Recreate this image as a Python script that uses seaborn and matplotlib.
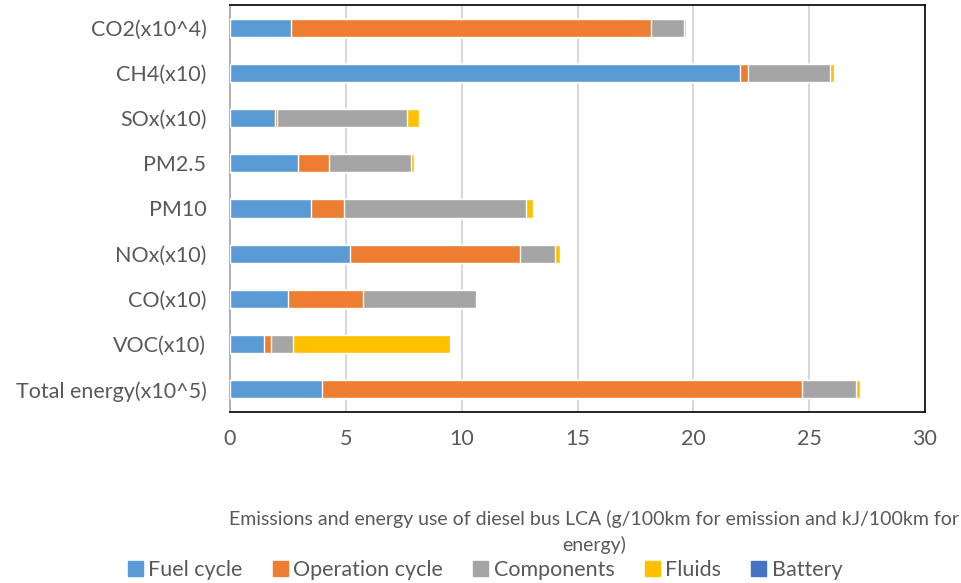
import matplotlib
matplotlib.use("Agg")
import matplotlib.pyplot as plt
import matplotlib.patches as mpatches
import numpy as np
import pandas as pd
import seaborn as sns

categories = ["CO2(x10^4)", "CH4(x10)", "SOx(x10)", "PM2.5", "PM10",
              "NOx(x10)", "CO(x10)", "VOC(x10)", "Total energy(x10^5)"]
fuel_cycle = [2.65, 22.02, 1.94, 2.95, 3.51, 5.20, 2.51, 1.48, 3.96]
operation_cycle = [15.54, 0.33, 0.09, 1.33, 1.43, 7.30, 3.24, 0.29, 20.75]
components = [1.39, 3.54, 5.62, 3.54, 7.85, 1.55, 4.88, 0.95, 2.32]
fluids = [0.10, 0.19, 0.50, 0.11, 0.28, 0.19, 0.05, 6.78, 0.17]
battery = [0.01, 0.00, 0.04, 0.04, 0.05, 0.01, 0.01, 0.03, 0.01]

series_names = ["Fuel cycle", "Operation cycle", "Components", "Fluids", "Battery"]
series_values = [fuel_cycle, operation_cycle, components, fluids, battery]
series_colors = ["#5B9BD5", "#ED7D31", "#A5A5A5", "#FFC000", "#4472C4"]

sns.set_theme(style="white")
plt.rcParams["font.family"] = ["Lato", "DejaVu Sans"]

df = pd.DataFrame({"category": categories})
cum = np.zeros(len(categories))
for name, vals in zip(series_names, series_values):
    cum = cum + np.array(vals)
    df[name] = cum

fig = plt.figure(figsize=(9.61, 5.83), dpi=100)
ax = fig.add_axes([230 / 961, 1 - 412 / 583, 695 / 961, 407 / 583])

# stacked bars: draw cumulative totals from the outermost segment inward
for name, color in reversed(list(zip(series_names, series_colors))):
    sns.barplot(data=df, y="category", x=name, color=color, saturation=1,
                width=0.4, orient="h", ax=ax, zorder=3)

ax.set_xlim(0, 30)
ax.set_ylim(8.5, -0.5)
ax.set_xticks(range(0, 31, 5))
ax.xaxis.grid(True, color="#D9D9D9", linewidth=1.5, zorder=0)
ax.yaxis.grid(False)
ax.set_axisbelow(True)
ax.set_xlabel("")
ax.set_ylabel("")
ax.tick_params(axis="x", length=0, pad=12, labelsize=15.5, labelcolor="#595959")
ax.tick_params(axis="y", length=0, pad=17, labelsize=15.5, labelcolor="#595959")
for side, sp in ax.spines.items():
    sp.set_visible(True)
    sp.set_color("black")
    sp.set_linewidth(1.2)
ax.spines["left"].set_color("#A6A6A6")

fig.text(594 / 961, 1 - 532 / 583,
         "Emissions and energy use of diesel bus LCA (g/100km for emission and kJ/100km for\nenergy)",
         ha="center", va="center", multialignment="center",
         fontsize=14, color="#595959", linespacing=1.55)

handles = [mpatches.Patch(color=c, label=n) for n, c in zip(series_names, series_colors)]
fig.legend(handles=handles, loc="center", bbox_to_anchor=(485 / 961, 1 - 570 / 583),
           ncol=5, frameon=False, fontsize=15.5, handlelength=0.7, handleheight=0.7,
           handletextpad=0.25, columnspacing=1.4, labelcolor="#595959",
           borderpad=0, borderaxespad=0)

fig.savefig("out.png", dpi=100, facecolor="white")
